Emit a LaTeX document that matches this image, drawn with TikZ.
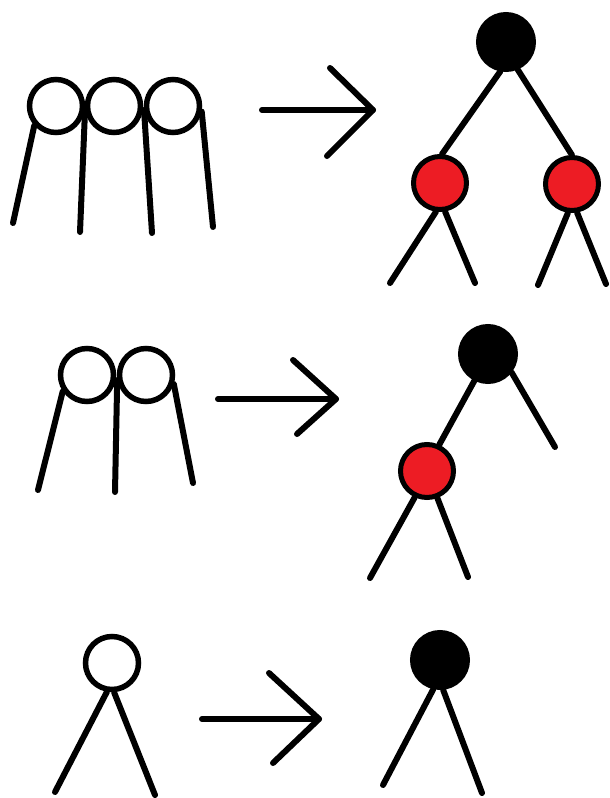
\documentclass[tikz,border=0pt]{standalone}
\definecolor{paintred}{RGB}{237,28,36}
\tikzset{
  ring/.style={circle, draw=black, line width=5.5pt, fill=white, inner sep=0pt, minimum size=53pt},
  blacknode/.style={circle, draw=black, fill=black, line width=5pt, inner sep=0pt, minimum size=55pt},
  rednode/.style={circle, draw=black, fill=paintred, line width=5pt, inner sep=0pt, minimum size=53pt},
  stroke/.style={line width=6pt, line cap=round, line join=round, black}
}
\begin{document}
\begin{tikzpicture}[x=1pt,y=-1pt]
\useasboundingbox (0,0) rectangle (610,798);
% ---------- Row 1 ----------
\node[ring] (a1) at (56,106) {};
\node[ring] (a2) at (114,106) {};
\node[ring] (a3) at (173,106) {};
\coordinate (a1e) at (13,223);
\coordinate (a2e) at (80,232);
\coordinate (a3e) at (152,233);
\coordinate (a4e) at (213,227);
\draw[stroke] (a1.222) -- (a1e);
\draw[stroke] (a2.188) -- (a2e);
\draw[stroke] (a3.188) -- (a3e);
\draw[stroke] (a3.349) -- (a4e);
% arrow 1
\coordinate (r1s) at (262,110);
\coordinate (r1e) at (373,110);
\coordinate (r1u) at (330,68);
\coordinate (r1l) at (327,156);
\draw[stroke] (r1s) -- (r1e);
\draw[stroke] (r1u) -- (r1e) -- (r1l);
% tree 1
\node[blacknode] (t1) at (506,42) {};
\node[rednode] (t1l) at (440,183) {};
\node[rednode] (t1r) at (572,184) {};
\draw[stroke] (t1.259) -- (t1l.86);
\draw[stroke] (t1.293) -- (t1r.90);
\coordinate (t1la) at (390,283);
\coordinate (t1lb) at (475,283);
\coordinate (t1ra) at (538,285);
\coordinate (t1rb) at (606,284);
\draw[stroke] (t1l.262) -- (t1la);
\draw[stroke] (t1l.280) -- (t1lb);
\draw[stroke] (t1r.262) -- (t1ra);
\draw[stroke] (t1r.280) -- (t1rb);
% ---------- Row 2 ----------
\node[ring] (b1) at (87,375) {};
\node[ring] (b2) at (146,375) {};
\coordinate (b1e) at (38,490);
\coordinate (b2e) at (115,492);
\coordinate (b3e) at (193,483);
\draw[stroke] (b1.214) -- (b1e);
\draw[stroke] (b2.190) -- (b2e);
\draw[stroke] (b2.342) -- (b3e);
% arrow 2
\coordinate (r2s) at (218,399);
\coordinate (r2e) at (336,399);
\coordinate (r2u) at (293,360);
\coordinate (r2l) at (297,434);
\draw[stroke] (r2s) -- (r2e);
\draw[stroke] (r2u) -- (r2e) -- (r2l);
% tree 2
\node[blacknode] (t2) at (488,354) {};
\node[rednode] (t2l) at (427,471) {};
\coordinate (t2re) at (555,447);
\draw[stroke] (t2.243) -- (t2l.65);
\draw[stroke] (t2.322) -- (t2re);
\coordinate (t2la) at (370,578);
\coordinate (t2lb) at (468,577);
\draw[stroke] (t2l.245) -- (t2la);
\draw[stroke] (t2l.291) -- (t2lb);
% ---------- Row 3 ----------
\node[ring] (c1) at (112,663) {};
\coordinate (c1a) at (55,792);
\coordinate (c1b) at (155,795);
\draw[stroke] (c1.260) -- (c1a);
\draw[stroke] (c1.274) -- (c1b);
% arrow 3
\coordinate (r3s) at (202,719);
\coordinate (r3e) at (319,719);
\coordinate (r3u) at (269,673);
\coordinate (r3l) at (273,763);
\draw[stroke] (r3s) -- (r3e);
\draw[stroke] (r3u) -- (r3e) -- (r3l);
% tree 3
\node[blacknode] (t3) at (440,660) {};
\coordinate (t3a) at (383,785);
\coordinate (t3b) at (482,793);
\draw[stroke] (t3.257) -- (t3a);
\draw[stroke] (t3.276) -- (t3b);
\end{tikzpicture}
\end{document}
